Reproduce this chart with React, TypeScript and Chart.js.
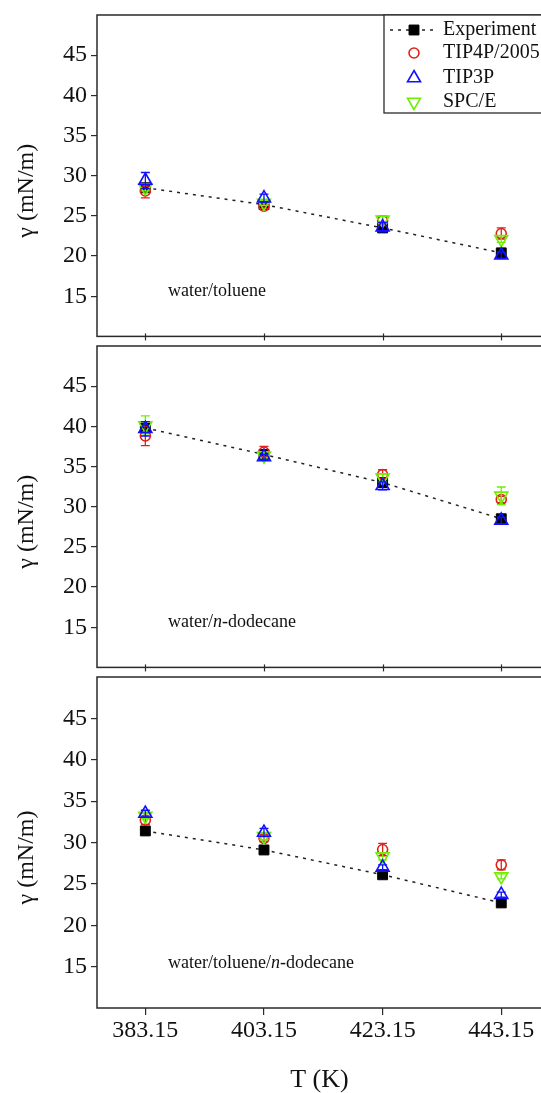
import React, { useEffect, useRef } from "react";
import { Chart, registerables } from "chart.js";
import { drawPoint } from "chart.js/helpers";

Chart.register(...registerables);

// ---------- data ----------
const temperatures = [383.15, 403.15, 423.15, 443.15];
const xTickValues = [383.15, 403.15, 423.15, 443.15];
const yTickValues = [15, 20, 25, 30, 35, 40, 45];
const seriesNames = ["Experiment", "TIP4P/2005", "TIP3P", "SPC/E"];
const yAxisTitle = "γ (mN/m)";
const xAxisTitle = "T (K)";

// panel labels (segments; italic flag for n-)
const labelToluene = [{ t: "water/toluene", i: false }];
const labelDodecane = [
  { t: "water/", i: false },
  { t: "n", i: true },
  { t: "-dodecane", i: false },
];
const labelMixture = [
  { t: "water/toluene/", i: false },
  { t: "n", i: true },
  { t: "-dodecane", i: false },
];

// water/toluene
const tolExp = [28.5, 26.4, 23.5, 20.4];
const tolTip4p = [28.1, 26.2, 24.4, 22.8];
const tolTip4pErr = [0.85, 0.3, 0.6, 0.7];
const tolTip3p = [29.4, 27.2, 23.6, 20.1];
const tolTip3pErr = [1.0, 0.5, 0.6, 0.4];
const tolSpce = [28.5, 26.6, 24.5, 22.1];
const tolSpceErr = [0.4, 0.3, 0.5, 0.4];

// water/n-dodecane
const dodExp = [39.8, 36.5, 33.0, 28.5];
const dodTip4p = [38.8, 36.8, 34.0, 30.9];
const dodTip4pErr = [1.2, 0.7, 0.6, 0.4];
const dodTip3p = [39.7, 36.2, 32.6, 28.3];
const dodTip3pErr = [0.9, 0.3, 0.5, 0.4];
const dodSpce = [40.1, 36.35, 33.6, 31.35];
const dodSpceErr = [1.2, 0.5, 0.5, 1.1];

// water/toluene/n-dodecane
const mixExp = [31.4, 29.1, 26.1, 22.7];
const mixTip4p = [32.7, 30.5, 29.15, 27.3];
const mixTip4pErr = [0.5, 0.4, 0.75, 0.6];
const mixTip3p = [33.5, 31.2, 27.0, 23.7];
const mixTip3pErr = [0.4, 0.5, 0.3, 0.3];
const mixSpce = [33.2, 30.75, 28.3, 25.9];
const mixSpceErr = [0.3, 0.4, 0.4, 0.3];

const panels = [
  { label: labelToluene, exp: tolExp, tip4p: tolTip4p, tip4pErr: tolTip4pErr, tip3p: tolTip3p, tip3pErr: tolTip3pErr, spce: tolSpce, spceErr: tolSpceErr },
  { label: labelDodecane, exp: dodExp, tip4p: dodTip4p, tip4pErr: dodTip4pErr, tip3p: dodTip3p, tip3pErr: dodTip3pErr, spce: dodSpce, spceErr: dodSpceErr },
  { label: labelMixture, exp: mixExp, tip4p: mixTip4p, tip4pErr: mixTip4pErr, tip3p: mixTip3p, tip3pErr: mixTip3pErr, spce: mixSpce, spceErr: mixSpceErr },
];

// ---------- styling ----------
const FONT = "'Liberation Serif', 'Times New Roman', serif";
const TEXT = "#111";
const FRAME = "#2a2a2a";
const RED = "#e0201b";
const BLUE = "#1010ff";
const GREEN = "#6cf000";
const HOLLOW = "rgba(255,255,255,0)";

const CANVAS_W = 551;
const canvasLayout = [
  { top: 0, h: 350 },
  { top: 331, h: 350 },
  { top: 662, h: 431 },
];

const toPts = (vals: number[]) => temperatures.map((t, i) => ({ x: t, y: vals[i] }));

// ---------- plugins ----------
const framePlugin = {
  id: "frame",
  beforeDatasetsDraw(chart: any) {
    const { ctx, chartArea: a } = chart;
    ctx.save();
    ctx.strokeStyle = FRAME;
    ctx.lineWidth = 1.5;
    ctx.strokeRect(a.left, a.top, a.right - a.left, a.bottom - a.top);
    ctx.restore();
  },
};

const innerTicksPlugin = {
  id: "innerTicks",
  afterDraw(chart: any, _args: any, opts: any) {
    if (!opts || !opts.show) return;
    const { ctx, chartArea: a } = chart;
    const xs = chart.scales.x;
    ctx.save();
    ctx.strokeStyle = FRAME;
    ctx.lineWidth = 1.2;
    xTickValues.forEach((v) => {
      const px = Math.round(xs.getPixelForValue(v)) + 0.5;
      ctx.beginPath();
      ctx.moveTo(px, a.bottom - 3);
      ctx.lineTo(px, a.bottom + 4);
      ctx.stroke();
    });
    ctx.restore();
  },
};

const errorBarPlugin = {
  id: "errorBars",
  afterDatasetDraw(chart: any, args: any) {
    const ds = chart.data.datasets[args.index];
    if (!ds.errors) return;
    const ys = chart.scales.y;
    const { ctx } = chart;
    ctx.save();
    ctx.strokeStyle = ds.pointBorderColor;
    ctx.lineWidth = 1.3;
    args.meta.data.forEach((pt: any, i: number) => {
      const v = ds.data[i].y;
      const e = ds.errors[i];
      const yTop = ys.getPixelForValue(v + e);
      const yBot = ys.getPixelForValue(v - e);
      const x = pt.x;
      ctx.beginPath();
      ctx.moveTo(x, yTop);
      ctx.lineTo(x, yBot);
      ctx.moveTo(x - 4.5, yTop);
      ctx.lineTo(x + 4.5, yTop);
      ctx.moveTo(x - 4.5, yBot);
      ctx.lineTo(x + 4.5, yBot);
      ctx.stroke();
    });
    ctx.restore();
  },
};

const panelTextPlugin = {
  id: "panelText",
  afterDraw(chart: any, _args: any, opts: any) {
    const { ctx, chartArea: a } = chart;
    ctx.save();
    ctx.fillStyle = TEXT;
    ctx.textBaseline = "middle";
    ctx.textAlign = "left";
    // panel label
    let x = a.left + 71;
    const y = a.bottom - 45;
    (opts.segments || []).forEach((s: any) => {
      ctx.font = `${s.i ? "italic " : ""}18px ${FONT}`;
      ctx.fillText(s.t, x, y);
      x += ctx.measureText(s.t).width;
    });
    // y-axis title
    ctx.translate(27, (a.top + a.bottom) / 2 + 15);
    ctx.rotate(-Math.PI / 2);
    ctx.textAlign = "center";
    ctx.font = `24px ${FONT}`;
    ctx.fillText(yAxisTitle, 0, 0);
    ctx.restore();
  },
};

const boxLegendPlugin = {
  id: "boxLegend",
  afterDraw(chart: any, _args: any, opts: any) {
    if (!opts || !opts.show) return;
    const { ctx, chartArea: a } = chart;
    const left = a.left + 287;
    const top = a.top;
    const bottom = top + 98;
    const right = left + 170;
    ctx.save();
    ctx.fillStyle = "#fff";
    ctx.fillRect(left, top, right - left, bottom - top);
    ctx.strokeStyle = FRAME;
    ctx.lineWidth = 1.3;
    ctx.strokeRect(left, top, right - left, bottom - top);
    const rows = [15, 38, 63, 87];
    chart.data.datasets.forEach((ds: any, i: number) => {
      const y = top + rows[i];
      const mx = left + 30;
      if (ds.showLine) {
        ctx.save();
        ctx.strokeStyle = ds.borderColor;
        ctx.lineWidth = ds.borderWidth;
        ctx.setLineDash(ds.borderDash || []);
        ctx.beginPath();
        ctx.moveTo(left + 6, y);
        ctx.lineTo(left + 54, y);
        ctx.stroke();
        ctx.restore();
      }
      ctx.strokeStyle = ds.pointBorderColor;
      ctx.fillStyle = ds.pointBackgroundColor;
      ctx.lineWidth = ds.pointBorderWidth;
      ctx.setLineDash([]);
      drawPoint(ctx, {
        pointStyle: ds.pointStyle,
        rotation: ds.pointRotation || 0,
        radius: ds.pointRadius,
        borderWidth: ds.pointBorderWidth,
      } as any, mx, y);
      ctx.fillStyle = TEXT;
      ctx.font = `20px ${FONT}`;
      ctx.textAlign = "left";
      ctx.textBaseline = "middle";
      ctx.fillText(seriesNames[i], left + 59, y);
    });
    ctx.restore();
  },
};

function buildConfig(idx: number): any {
  const p = panels[idx];
  const isBottom = idx === 2;
  const xScale: any = {
    type: "linear",
    min: 375,
    max: 450,
    display: isBottom,
    afterBuildTicks: (s: any) => {
      s.ticks = xTickValues.map((v) => ({ value: v }));
    },
    grid: { drawOnChartArea: false, drawTicks: true, tickLength: 7, color: FRAME, lineWidth: 1.2 },
    border: { display: false },
    ticks: {
      font: { family: FONT, size: 24 },
      color: TEXT,
      padding: 1,
      maxRotation: 0,
      autoSkip: false,
      callback: (v: any) => Number(v).toFixed(2),
    },
    title: {
      display: true,
      text: xAxisTitle,
      color: TEXT,
      font: { family: FONT, size: 26, lineHeight: 1 },
      padding: { top: 0, bottom: 0 },
    },
  };
  if (isBottom) {
    xScale.afterFit = (s: any) => {
      s.height = 85;
    };
  }
  return {
    type: "line",
    data: {
      datasets: [
        {
          label: seriesNames[0],
          data: toPts(p.exp),
          showLine: true,
          borderColor: "#222",
          borderWidth: 1.5,
          borderDash: [3, 5],
          pointStyle: "rect",
          pointRadius: 7,
          pointBorderWidth: 1,
          pointBorderColor: "#000",
          pointBackgroundColor: "#000",
          order: 10,
        },
        {
          label: seriesNames[1],
          data: toPts(p.tip4p),
          errors: p.tip4pErr,
          showLine: false,
          pointStyle: "circle",
          pointRadius: 5,
          pointBorderWidth: 1.6,
          pointBorderColor: RED,
          pointBackgroundColor: HOLLOW,
          order: 3,
        },
        {
          label: seriesNames[2],
          data: toPts(p.tip3p),
          errors: p.tip3pErr,
          showLine: false,
          pointStyle: "triangle",
          pointRadius: 7.5,
          pointBorderWidth: 1.6,
          pointBorderColor: BLUE,
          pointBackgroundColor: HOLLOW,
          order: 1,
        },
        {
          label: seriesNames[3],
          data: toPts(p.spce),
          errors: p.spceErr,
          showLine: false,
          pointStyle: "triangle",
          pointRotation: 180,
          pointRadius: 7.5,
          pointBorderWidth: 1.6,
          pointBorderColor: GREEN,
          pointBackgroundColor: HOLLOW,
          order: 2,
        },
      ],
    },
    options: {
      responsive: true,
      maintainAspectRatio: false,
      animation: false,
      devicePixelRatio: 1,
      events: [],
      layout: { padding: { top: 15, bottom: isBottom ? 0 : 4, left: 0, right: 0 } },
      plugins: {
        legend: { display: false },
        tooltip: { enabled: false },
        innerTicks: { show: !isBottom },
        panelText: { segments: p.label },
        boxLegend: { show: idx === 0 },
      },
      scales: {
        x: xScale,
        y: {
          type: "linear",
          min: 10,
          max: 50,
          afterBuildTicks: (s: any) => {
            s.ticks = yTickValues.map((v) => ({ value: v }));
          },
          afterFit: (s: any) => {
            s.width = 97;
          },
          grid: { drawOnChartArea: false, drawTicks: true, tickLength: 6, color: FRAME, lineWidth: 1.2 },
          border: { display: false },
          ticks: {
            font: { family: FONT, size: 24, lineHeight: 0.8 },
            color: TEXT,
            padding: 4,
            callback: (v: any) => String(v),
          },
        },
      },
    },
    plugins: [framePlugin, errorBarPlugin, innerTicksPlugin, panelTextPlugin, boxLegendPlugin],
  };
}

export default function App() {
  const r0 = useRef<HTMLCanvasElement>(null);
  const r1 = useRef<HTMLCanvasElement>(null);
  const r2 = useRef<HTMLCanvasElement>(null);
  const refs = [r0, r1, r2];

  useEffect(() => {
    const charts = refs.map((r, i) => new Chart(r.current as HTMLCanvasElement, buildConfig(i)));
    return () => charts.forEach((c) => c.destroy());
  }, []);

  return (
    <div
      style={{
        position: "absolute",
        left: 0,
        top: 0,
        width: 541,
        height: 1093,
        overflow: "hidden",
        background: "#fff",
      }}
    >
      {canvasLayout.map((l, i) => (
        <div
          key={i}
          style={{ position: "absolute", left: 0, top: l.top, width: CANVAS_W, height: l.h }}
        >
          <canvas ref={refs[i]} />
        </div>
      ))}
    </div>
  );
}
